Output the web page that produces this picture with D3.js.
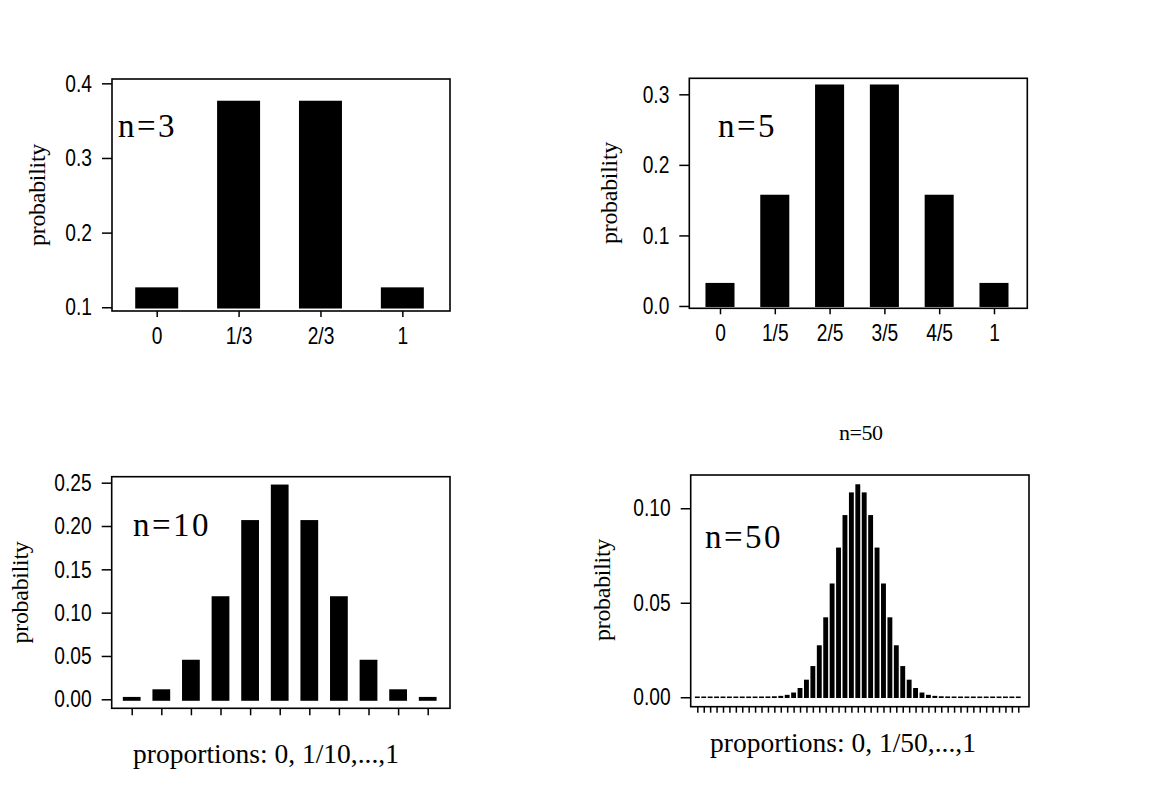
<!DOCTYPE html>
<html>
<head>
<meta charset="utf-8">
<script src="https://cdn.jsdelivr.net/npm/d3@7"></script>
<style>
  body { margin: 0; background: #fff; }
  .tick text { font-family: "Liberation Sans", Arial, sans-serif; font-size: 24px; fill: #000; }
  .tick line { stroke: #000; stroke-width: 1.5; }
  .serif { font-family: "Liberation Serif", "Times New Roman", serif; fill: #000; }
</style>
</head>
<body>
<svg id="chart" width="1152" height="794"></svg>
<script>
// Sampling distributions of a proportion (p = 0.5)

const n3Labels = ['0', '1/3', '2/3', '1'];
const n3Probs = [0.125, 0.375, 0.375, 0.125];
const n3YTicks = [0.1, 0.2, 0.3, 0.4];

const n5Labels = ['0', '1/5', '2/5', '3/5', '4/5', '1'];
const n5Probs = [0.03125, 0.15625, 0.3125, 0.3125, 0.15625, 0.03125];
const n5YTicks = [0.0, 0.1, 0.2, 0.3];

const n10Probs = [0.001, 0.0098, 0.0439, 0.1172, 0.2051, 0.2461, 0.2051, 0.1172, 0.0439, 0.0098, 0.001];
const n10YTicks = [0.00, 0.05, 0.10, 0.15, 0.20, 0.25];

const n50Probs = [
  0, 0, 0, 0, 0, 0, 0, 0, 0, 0,
  0.00001, 0.00004, 0.00012, 0.00034, 0.00088, 0.0021, 0.0045, 0.0089, 0.0161, 0.0271,
  0.0419, 0.0598, 0.0788, 0.0960, 0.1080, 0.1123, 0.1080, 0.0960, 0.0788, 0.0598,
  0.0419, 0.0271, 0.0161, 0.0089, 0.0045, 0.0021, 0.00088, 0.00034, 0.00012, 0.00004,
  0.00001, 0, 0, 0, 0, 0, 0, 0, 0, 0, 0
];
const n50YTicks = [0.00, 0.05, 0.10];

const svg = d3.select('#chart');
const narrow = 0.8; // squeeze tick labels to look like the narrow screen font

// one panel = box + bars + axes + texts
function drawPanel(p) {
  const g = svg.append('g');
  const x = d3.scaleLinear().domain(p.xDomain).range([p.left, p.right]);
  const y = d3.scaleLinear().domain(p.yDomain).range([p.bottom, p.top]);
  const step = x(1) - x(0);
  const bw = step * p.barFrac - p.barStroke;
  const base = p.base;

  g.selectAll('rect.bar')
    .data(p.values)
    .enter().append('rect')
    .attr('class', 'bar')
    .attr('x', (d, i) => x(i) - bw / 2)
    .attr('width', bw)
    .attr('y', d => y(Math.max(d, base)))
    .attr('height', d => Math.max(0.05, y(base) - y(Math.max(d, base))))
    .attr('fill', '#000')
    .attr('stroke', '#000')
    .attr('stroke-width', p.barStroke);

  // frame
  g.append('rect')
    .attr('x', p.left).attr('y', p.top)
    .attr('width', p.right - p.left).attr('height', p.bottom - p.top)
    .attr('fill', 'none').attr('stroke', '#000').attr('stroke-width', 1.6);

  const xAxis = d3.axisBottom(x)
    .tickValues(d3.range(p.values.length))
    .tickSizeInner(p.xTick).tickSizeOuter(0).tickPadding(10)
    .tickFormat(i => p.labels ? p.labels[i] : '');
  g.append('g').attr('transform', `translate(0,${p.bottom})`).call(xAxis)
    .call(a => a.select('.domain').remove())
    .call(a => a.selectAll('text').attr('transform', `scale(${narrow},1)`));

  const yAxis = d3.axisLeft(y)
    .tickValues(p.yTicks)
    .tickSizeInner(10).tickSizeOuter(0).tickPadding(10)
    .tickFormat(d3.format(p.yFormat));
  g.append('g').attr('transform', `translate(${p.left},0)`).call(yAxis)
    .call(a => a.select('.domain').remove())
    .call(a => a.selectAll('text')
      .attr('x', function() { return +this.getAttribute('x') / narrow; })
      .attr('transform', `scale(${narrow},1)`));

  g.append('text')
    .attr('class', 'serif')
    .attr('transform', `translate(${p.ylab[0]},${p.ylab[1]}) rotate(-90)`)
    .attr('text-anchor', 'middle')
    .attr('dominant-baseline', 'central')
    .style('font-size', '24px')
    .style('letter-spacing', '-0.3px')
    .text('probability');

  g.append('text')
    .attr('class', 'serif')
    .attr('x', p.nlab[0]).attr('y', p.nlab[1])
    .style('font-size', '33px')
    .style('letter-spacing', '2.5px')
    .text(p.name);

  if (p.xTitle) {
    g.append('text')
      .attr('class', 'serif')
      .attr('x', p.xTitle[0]).attr('y', p.xTitle[1])
      .attr('text-anchor', 'middle')
      .style('font-size', '27.5px')
      .text(p.xTitle[2]);
  }
  if (p.title) {
    g.append('text')
      .attr('class', 'serif')
      .attr('x', p.title[0]).attr('y', p.title[1])
      .attr('text-anchor', 'middle')
      .style('font-size', '22px')
      .style('letter-spacing', '-0.5px')
      .text(p.title[2]);
  }
}

drawPanel({
  name: 'n=3', values: n3Probs, labels: n3Labels, yTicks: n3YTicks, yFormat: '.1f',
  left: 112, right: 450, top: 79, bottom: 311,
  xDomain: [-0.546, 3.582], yDomain: [0.095, 0.4058], base: 0.1,
  barFrac: 0.525, barStroke: 2.5, xTick: 6,
  ylab: [37, 195], nlab: [118, 137]
});

drawPanel({
  name: 'n=5', values: n5Probs, labels: n5Labels, yTicks: n5YTicks, yFormat: '.1f',
  left: 689.3, right: 1027.3, top: 78.3, bottom: 308.3,
  xDomain: [-0.56, 5.608], yDomain: [-0.0033, 0.3227], base: 0,
  barFrac: 0.53, barStroke: 2, xTick: 6,
  ylab: [609, 193], nlab: [718, 136.7]
});

drawPanel({
  name: 'n=10', values: n10Probs, labels: null, yTicks: n10YTicks, yFormat: '.2f',
  left: 111.7, right: 450, top: 476.7, bottom: 708.3,
  xDomain: [-0.676, 10.753], yDomain: [-0.0104, 0.2569], base: 0,
  barFrac: 0.6, barStroke: 3, xTick: 7,
  ylab: [20, 592.5], nlab: [133, 536],
  xTitle: [266, 763, 'proportions: 0, 1/10,...,1']
});

drawPanel({
  name: 'n=50', values: n50Probs, labels: null, yTicks: n50YTicks, yFormat: '.2f',
  left: 690.7, right: 1029, top: 475, bottom: 706.7,
  xDomain: [-1.03, 51.67], yDomain: [-0.005, 0.1176], base: 0,
  barFrac: 0.76, barStroke: 1.5, xTick: 6,
  ylab: [601.7, 590], nlab: [705, 548.3],
  xTitle: [843, 751.7, 'proportions: 0, 1/50,...,1'],
  title: [860.7, 440, 'n=50']
});
</script>
</body>
</html>
